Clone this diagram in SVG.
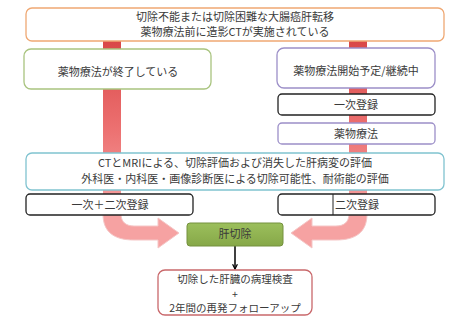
<svg xmlns="http://www.w3.org/2000/svg" width="466" height="331" viewBox="0 0 466 331">
<defs>
<linearGradient id="barG" gradientUnits="userSpaceOnUse" x1="0" y1="41" x2="0" y2="215">
<stop offset="0" stop-color="#D94848"/>
<stop offset="0.5" stop-color="#EC7070"/>
<stop offset="1" stop-color="#F7A4A4"/>
</linearGradient>
<linearGradient id="greenG" x1="0" y1="0" x2="0" y2="1">
<stop offset="0" stop-color="#9CBF5C"/>
<stop offset="1" stop-color="#86A848"/>
</linearGradient>
<marker id="ah" viewBox="0 0 10 10" refX="9" refY="5" markerWidth="6" markerHeight="6" orient="auto" markerUnits="userSpaceOnUse">
<path d="M1,1 L9,5 L1,9" fill="none" stroke="#000" stroke-width="2"/>
</marker>
</defs>
<style>
text{font-family:"Noto Sans CJK JP","Noto Sans",sans-serif;font-size:11px;fill:#3a3a3a;text-anchor:middle}
.sm{font-size:10.5px}
.box{fill:#fff;stroke-width:1.3}
.bar{fill:url(#barG)}
.curve{fill:#F6A2A2;stroke:#F5C6C6;stroke-width:1}
</style>
<rect width="466" height="331" fill="#fff"/>
<g id="connectors">
<rect class="bar" x="103" y="41" width="18" height="174"/>
<rect class="bar" x="349" y="41" width="18" height="174"/>
<path class="curve" d="M103 214 C103 232 114 240 134 240 L158 240 L158 248 L179 233 L158 218 L158 226 L134 226 C126 226 121 222 121 214 Z"/>
<path class="curve" d="M367 214 C367 232 356 240 336 240 L312 240 L312 248 L291 233 L312 218 L312 226 L336 226 C344 226 349 222 349 214 Z"/>
<line x1="235" y1="246" x2="235" y2="269" stroke="#000" stroke-width="1.5" marker-end="url(#ah)"/>
</g>
<g id="n_top">
<rect class="box" x="26" y="8" width="418" height="33" rx="6" stroke="#EFA873"/>
<text x="235" y="21">切除不能または切除困難な大腸癌肝転移</text>
<text x="235" y="36">薬物療法前に造影CTが実施されている</text>
</g>
<g id="n_done">
<rect class="box" x="24" y="49" width="187" height="40" rx="7" stroke="#A9C47F"/>
<text x="118" y="76">薬物療法が終了している</text>
</g>
<g id="n_plan">
<rect class="box" x="277" y="48" width="158" height="40" rx="7" stroke="#9C8FC8"/>
<text x="356" y="75">薬物療法開始予定/継続中</text>
</g>
<g id="n_reg1">
<rect class="box" x="278" y="94" width="157" height="21" rx="4" stroke="#222"/>
<text x="356" y="109">一次登録</text>
</g>
<g id="n_chemo">
<rect class="box" x="278" y="123" width="157" height="21" rx="4" stroke="#9C8FC8"/>
<text x="356" y="138">薬物療法</text>
</g>
<g id="n_eval">
<rect class="box" x="26" y="153" width="418" height="37" rx="6" stroke="#80C3D0"/>
<text x="235" y="167">CTとMRIによる、切除評価および消失した肝病変の評価</text>
<text x="235" y="183">外科医・内科医・画像診断医による切除可能性、耐術能の評価</text>
</g>
<g id="n_reg12">
<rect class="box" x="26" y="194" width="167" height="21" rx="4" stroke="#222"/>
<text x="110" y="209">一次＋二次登録</text>
</g>
<g id="n_reg2">
<rect class="box" x="278" y="194" width="157" height="21" rx="4" stroke="#222"/>
<line x1="333" y1="194" x2="333" y2="215" stroke="#222" stroke-width="1"/>
<text x="357" y="209">二次登録</text>
</g>
<g id="n_resect">
<rect x="187" y="223" width="96" height="23" rx="3" fill="url(#greenG)" stroke="#74913E" stroke-width="1"/>
<text x="235" y="238">肝切除</text>
</g>
<g id="n_follow">
<rect class="box" x="158" y="270" width="154" height="45" rx="7" stroke="#C9686B"/>
<text class="sm" x="235" y="283">切除した肝臓の病理検査</text>
<text class="sm" x="235" y="297.5">+</text>
<text class="sm" x="235" y="312">2年間の再発フォローアップ</text>
</g>
</svg>
